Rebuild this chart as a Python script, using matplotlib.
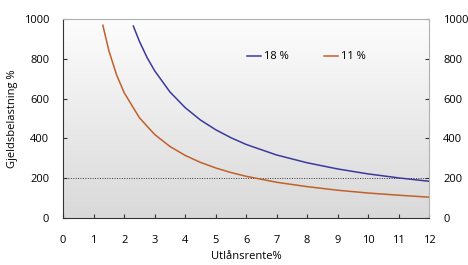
import numpy as np
import matplotlib.pyplot as plt
from matplotlib.colors import LinearSegmentedColormap

plt.rcParams['font.family'] = ['Open Sans', 'DejaVu Sans']

# loan rate (%) and debt burden (%)
rate_18 = [2.3, 2.5, 2.75, 3.0, 3.5, 4.0, 4.5, 5.0, 5.5, 6.0, 7.0, 8.0, 9.0, 10.0, 11.0, 12.0]
burden_18 = [965, 888, 807, 740, 634, 555, 493, 444, 404, 370, 317, 278, 247, 222, 202, 185]
rate_11 = [1.3, 1.5, 1.75, 2.0, 2.5, 3.0, 3.5, 4.0, 4.5, 5.0, 5.5, 6.0, 7.0, 8.0, 9.0, 10.0, 11.0, 12.0]
burden_11 = [969, 840, 720, 630, 504, 420, 360, 315, 280, 252, 229, 210, 180, 158, 140, 126, 115, 105]
threshold = 200

fig = plt.figure(figsize=(4.68, 2.65), dpi=100)
ax = fig.add_axes([0.135, 0.177, 0.782, 0.751])

# gradient background, white at top to light gray at bottom
bg = LinearSegmentedColormap.from_list('bg', ['#d9d9d9', '#fdfdfd'])
grad = np.linspace(0, 1, 256).reshape(-1, 1)
ax.imshow(grad, extent=[0, 1, 0, 1], transform=ax.transAxes, cmap=bg,
          aspect='auto', zorder=0, origin='lower')

ax.plot(rate_18, burden_18, color='#3a3a9e', lw=1.1, label='18 %', zorder=3)
ax.plot(rate_11, burden_11, color='#c0602a', lw=1.1, label='11 %', zorder=3)
ax.axhline(threshold, color='#333333', lw=0.7, ls=(0, (1, 1.5)), zorder=2)

ax.set_xlim(0, 12)
ax.set_ylim(0, 1000)
ax.set_xticks(range(0, 13))
ax.set_yticks(range(0, 1001, 200))

for s in ['top', 'right']:
    ax.spines[s].set_color('#b0b0b0')
for s in ['left', 'bottom']:
    ax.spines[s].set_color('#333333')

ax.tick_params(axis='x', direction='in', length=3, pad=12, labelsize=8, color='#333333')
ax.tick_params(axis='y', direction='in', length=3, labelsize=8, color='#333333',
               right=True, labelright=True, pad=10)

ax.set_xlabel('Utlånsrente%', fontsize=8)
ax.set_ylabel('Gjeldsbelastning %', fontsize=8, labelpad=4)

ax.legend(loc='center left', bbox_to_anchor=(0.49, 0.81), ncol=2, frameon=False,
          fontsize=8, handlelength=1.3, handletextpad=0.2, columnspacing=3.2,
          borderaxespad=0)

plt.savefig('out.png', dpi=100)
